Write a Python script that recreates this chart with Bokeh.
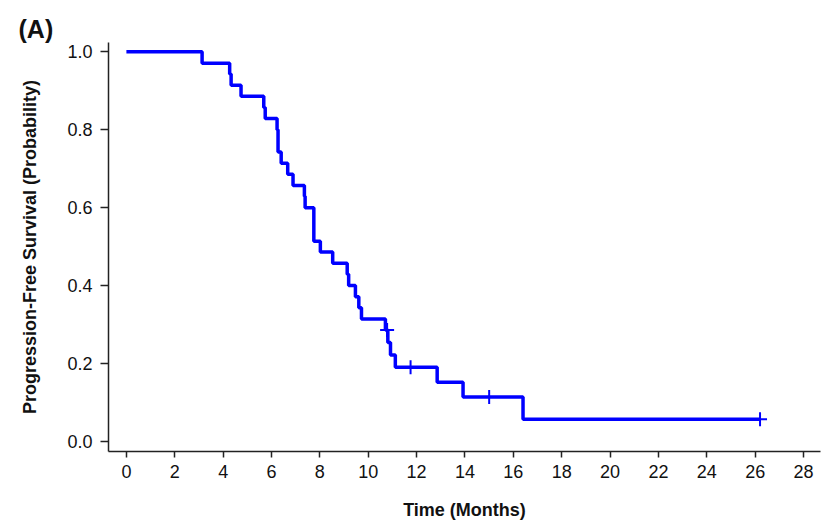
from bokeh.plotting import figure
from bokeh.models import Range1d, FixedTicker, PrintfTickFormatter
from bokeh.embed import file_html
from bokeh.resources import INLINE

# Kaplan-Meier step data (time in months, survival probability after event)
event_times = [0.0, 3.13, 4.27, 4.33, 4.74, 5.68, 5.74, 6.23, 6.27, 6.40, 6.67, 6.89,
               7.36, 7.39, 7.75, 8.02, 8.53, 9.13, 9.19, 9.47, 9.61, 9.72, 10.71,
               10.81, 10.92, 11.12, 12.85, 13.92, 16.40, 26.2]
survival = [1.000, 0.971, 0.943, 0.914, 0.886, 0.857, 0.829, 0.800, 0.743, 0.714,
            0.686, 0.657, 0.629, 0.600, 0.514, 0.486, 0.457, 0.429, 0.400, 0.371,
            0.343, 0.314, 0.286, 0.254, 0.222, 0.190, 0.152, 0.114, 0.057, 0.057]
censor_times = [10.78, 11.75, 15.0, 26.2]
censor_surv = [0.286, 0.190, 0.114, 0.057]

x_ticks = list(range(0, 29, 2))
y_ticks = [0.0, 0.2, 0.4, 0.6, 0.8, 1.0]

p = figure(width=828, height=530, output_backend="svg", toolbar_location=None,
           x_range=Range1d(-0.74, 28.7), y_range=Range1d(-0.026, 1.024),
           min_border_left=108, min_border_right=8, min_border_top=42,
           min_border_bottom=79)
p.outline_line_color = None
p.xgrid.visible = False
p.ygrid.visible = False
p.background_fill_color = "white"
p.border_fill_color = "white"

font = "Liberation Sans, Arial, Helvetica, sans-serif"

p.title.text = "(A)"
p.title.align = "left"
p.title.offset = -90
p.title.standoff = 0
p.title.text_font = font
p.title.text_font_style = "bold"
p.title.text_font_size = "25px"
p.title.text_color = "#111111"

p.step(event_times, survival, mode="after", line_color="#0000FF", line_width=3.5)
p.scatter(censor_times, censor_surv, marker="cross", size=14, line_color="#0000FF",
          line_width=2)

for ax in (p.xaxis[0], p.yaxis[0]):
    ax.axis_line_color = "#222222"
    ax.axis_line_width = 1.5
    ax.major_tick_line_color = "#222222"
    ax.major_tick_line_width = 1.5
    ax.major_tick_in = 0
    ax.minor_tick_line_color = None
    ax.major_label_text_font = font
    ax.major_label_text_color = "#111111"
    ax.axis_label_text_font = font
    ax.axis_label_text_font_style = "bold"
    ax.axis_label_text_color = "#111111"

p.xaxis.ticker = FixedTicker(ticks=x_ticks)
p.xaxis.major_tick_out = 6
p.xaxis.major_label_standoff = 7
p.xaxis.major_label_text_font_size = "18px"
p.xaxis.axis_label = "Time (Months)"
p.xaxis.axis_label_text_font_size = "18px"
p.xaxis.axis_label_standoff = 19

p.yaxis.ticker = FixedTicker(ticks=y_ticks)
p.yaxis.formatter = PrintfTickFormatter(format="%.1f")
p.yaxis.major_tick_out = 8
p.yaxis.major_label_standoff = 8
p.yaxis.major_label_text_font_size = "18px"
p.yaxis.axis_label = "Progression-Free Survival (Probability)"
p.yaxis.axis_label_text_font_size = "18px"
p.yaxis.axis_label_standoff = 24

open("out.html", "w").write(file_html(p, INLINE))
